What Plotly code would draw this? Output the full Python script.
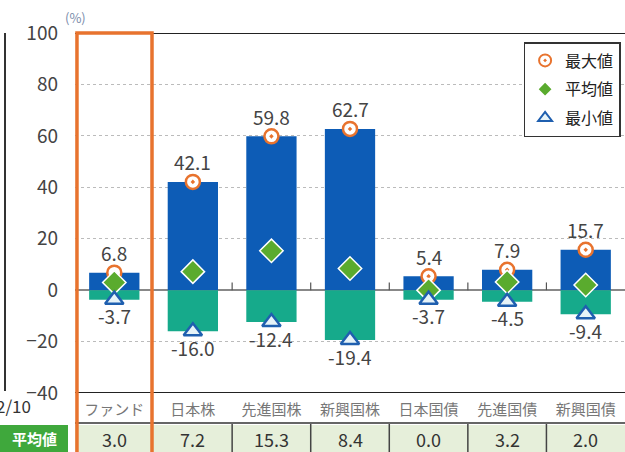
import plotly.graph_objects as go

categories = ["ファンド", "日本株", "先進国株", "新興国株", "日本国債", "先進国債", "新興国債"]
max_vals = [6.8, 42.1, 59.8, 62.7, 5.4, 7.9, 15.7]
mean_vals = [3.0, 7.2, 15.3, 8.4, 0.0, 3.2, 2.0]
min_vals = [-3.7, -16.0, -12.4, -19.4, -3.7, -4.5, -9.4]
y_ticks = [100, 80, 60, 40, 20, 0, -20, -40]

W, H = 625, 452
ML, MR, MT, MB = 75, 0, 33, 59
PW, PH = W - ML - MR, H - MT - MB
N = len(categories)
FONT = "Noto Sans CJK JP"

BLUE = "#0d5cb6"
TEAL = "#16aa8b"
ORANGE = "#e8732e"
GREEN = "#5aab2e"
TRI = "#1f5faf"


def px_x(i):
    return (i + 0.5) / N


def paper_y(py):
    return (MT + PH - py) / PH


x_idx = list(range(N))

fig = go.Figure()
fig.add_bar(x=x_idx, y=max_vals, marker=dict(color=BLUE, line=dict(width=0)),
            width=0.64, showlegend=False, hoverinfo="skip")
fig.add_bar(x=x_idx, y=min_vals, marker=dict(color=TEAL, line=dict(width=0)),
            width=0.64, showlegend=False, hoverinfo="skip")

fig.add_scatter(x=x_idx, y=max_vals, mode="markers", name="最大値", legendgroup="a",
                marker=dict(symbol="circle-dot", size=14, color="white",
                            line=dict(color=ORANGE, width=2.5)))
fig.add_scatter(x=x_idx, y=mean_vals, mode="markers", name="平均値", legendgroup="b",
                marker=dict(symbol="diamond", size=18, color=GREEN,
                            line=dict(color="white", width=1.5)))
fig.add_scatter(x=x_idx, y=min_vals, mode="markers", name="最小値", legendgroup="c",
                marker=dict(symbol="triangle-up", size=16, color="#e6f3f8",
                            line=dict(color=TRI, width=2.5)))

annotations = []
for i, v in enumerate(max_vals):
    annotations.append(dict(x=i, y=v, xref="x", yref="y", text=f"{v:.1f}", showarrow=False,
                            xanchor="center", yanchor="middle",
                            yshift=20, font=dict(size=19, color="#444", family=FONT)))
for i, v in enumerate(min_vals):
    annotations.append(dict(x=i, y=v, xref="x", yref="y", text=f"{v:.1f}", showarrow=False,
                            xanchor="center", yanchor="middle",
                            yshift=-16, font=dict(size=19, color="#444", family=FONT)))

shapes = []
# top and bottom frame lines
shapes.append(dict(type="line", xref="paper", yref="y", x0=0, x1=1, y0=100, y1=100,
                   line=dict(color="#222", width=2)))
shapes.append(dict(type="line", xref="paper", yref="y", x0=0, x1=1, y0=-40, y1=-40,
                   line=dict(color="#222", width=2)))
# small ticks at zero line between categories
for i in range(1, N - 1):
    shapes.append(dict(type="line", xref="x", yref="y", x0=i + 0.5, x1=i + 0.5, y0=0, y1=3,
                       line=dict(color="#555", width=1.2)))
# table row
shapes.append(dict(type="rect", xref="paper", yref="paper", x0=0, x1=1,
                   y0=paper_y(452), y1=paper_y(425), fillcolor="#e6efda",
                   line=dict(width=0), layer="below"))
shapes.append(dict(type="line", xref="paper", yref="paper", x0=0, x1=1,
                   y0=paper_y(423), y1=paper_y(423), line=dict(color="#333", width=1.5)))
for i in range(1, N - 1):
    xb = (i + 1) / N
    shapes.append(dict(type="line", xref="paper", yref="paper", x0=xb, x1=xb,
                       y0=paper_y(452), y1=paper_y(424), line=dict(color="#444", width=1.5)))
# green label cell
shapes.append(dict(type="rect", xref="paper", yref="paper", x0=-ML / PW, x1=(68 - ML) / PW,
                   y0=paper_y(452), y1=paper_y(425), fillcolor="#3fa83c", line=dict(width=0)))
# left border of previous panel
shapes.append(dict(type="line", xref="paper", yref="paper", x0=(5 - ML) / PW, x1=(5 - ML) / PW,
                   y0=paper_y(391), y1=paper_y(33), line=dict(color="#333", width=2)))
# orange highlight box around fund
shapes.append(dict(type="rect", xref="paper", yref="paper",
                   x0=px_x(0) - 0.475 / N, x1=px_x(0) + 0.48 / N,
                   y0=paper_y(470), y1=1.0, line=dict(color=ORANGE, width=3.5)))

for i, m in enumerate(mean_vals):
    annotations.append(dict(x=px_x(i), y=paper_y(438.5), xref="paper", yref="paper",
                            text=f"{m:.1f}", showarrow=False,
                            xanchor="center", yanchor="middle",
                            font=dict(size=18, color="#333", family=FONT)))
annotations.append(dict(x=(34 - ML) / PW, y=paper_y(438.5), xref="paper", yref="paper",
                        text="<b>平均値</b>", showarrow=False,
                        xanchor="center", yanchor="middle",
                        font=dict(size=15, color="white", family=FONT)))
annotations.append(dict(x=(33 - ML) / PW, y=paper_y(405), xref="paper", yref="paper",
                        text="2/10", showarrow=False, xanchor="right", yanchor="middle",
                        font=dict(size=17, color="#333", family=FONT)))
annotations.append(dict(x=(63 - ML) / PW, y=paper_y(18), xref="paper", yref="paper",
                        text="(%)", showarrow=False, xanchor="left", yanchor="middle",
                        font=dict(size=13, color="#7a8cab", family=FONT)))

fig.update_layout(
    width=W, height=H,
    margin=dict(l=ML, r=MR, t=MT, b=MB, pad=0),
    paper_bgcolor="white", plot_bgcolor="white",
    barmode="relative",
    font=dict(family=FONT, color="#444"),
    shapes=shapes, annotations=annotations,
    legend=dict(x=0.992, y=0.975, xanchor="right", yanchor="top",
                bordercolor="#333", borderwidth=1.5, bgcolor="white",
                font=dict(size=16, color="#222", family=FONT),
                itemwidth=30, itemsizing="constant",
                tracegroupgap=5, traceorder="grouped"),
)
fig.update_xaxes(range=[-0.5, N - 0.5], tickvals=x_idx, ticktext=categories,
                 showgrid=False, zeroline=False, showline=False, ticks="",
                 ticklabelstandoff=6,
                 tickfont=dict(size=15, color="#777", family=FONT))
fig.update_yaxes(range=[-40, 100], tickvals=y_ticks, showgrid=True,
                 gridcolor="#bbbbbb", griddash="3px,3px", gridwidth=1,
                 zeroline=True, zerolinecolor="#888", zerolinewidth=1.5,
                 showline=False, ticks="", ticklabelstandoff=16,
                 tickfont=dict(size=19, color="#444", family=FONT))

fig.write_html("out.html", config={"displayModeBar": False},
               post_script="document.body.style.margin='0';")
